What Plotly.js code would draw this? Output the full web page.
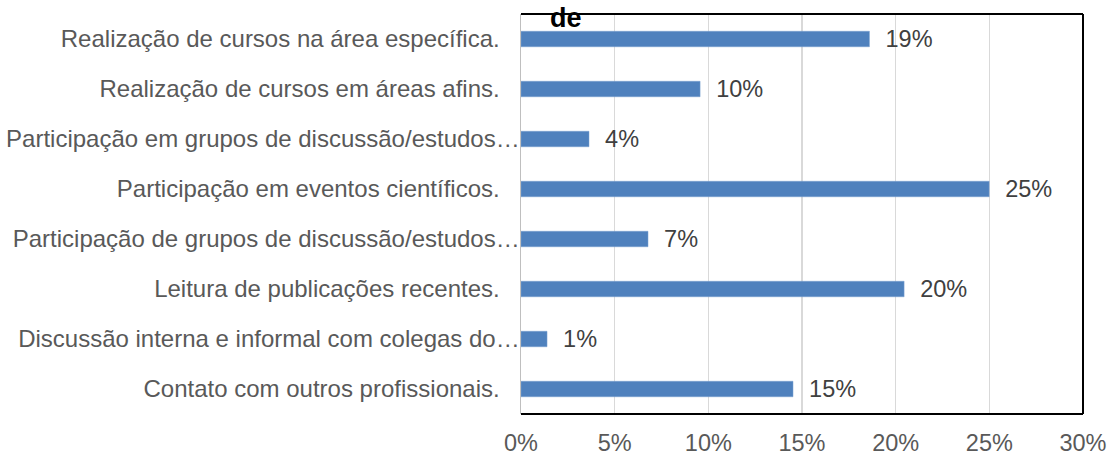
<!DOCTYPE html>
<html>
<head>
<meta charset="utf-8">
<script src="https://cdn.plot.ly/plotly-3.0.1.min.js"></script>
<style>html,body{margin:0;padding:0;background:#fff;}#chart{width:1112px;height:455px;}</style>
</head>
<body>
<div id="chart"></div>
<script>
const categories = [
  "Realização de cursos na área específica.",
  "Realização de cursos em áreas afins.",
  "Participação em grupos de discussão/estudos…",
  "Participação em eventos científicos.",
  "Participação de grupos de discussão/estudos…",
  "Leitura de publicações recentes.",
  "Discussão interna e informal com colegas do…",
  "Contato com outros profissionais."
];
const values = [0.186, 0.0956, 0.0363, 0.2499, 0.0678, 0.2045, 0.0139, 0.1452];
const xTickVals = [0, 0.05, 0.10, 0.15, 0.20, 0.25, 0.30];
const xTickText = ["0%", "5%", "10%", "15%", "20%", "25%", "30%"];
const titleText = "de";

const pad = "\u00A0\u00A0\u00A0";
const yTickText = categories.map(c => c.endsWith("…") ? c : c + pad);
const FONT = "Liberation Sans, Arial, sans-serif";

const trace = {
  type: "bar",
  orientation: "h",
  x: values,
  y: categories,
  width: 0.31,
  marker: {color: "#4f81bd", line: {color: "#7aa0d0", width: 0.5}},
  texttemplate: "\u00A0\u00A0%{x:.0%}",
  textposition: "outside",
  constraintext: "none",
  cliponaxis: false,
  textfont: {family: FONT, size: 23.5, color: "#404040"},
  hoverinfo: "none"
};

const layout = {
  width: 1112, height: 455,
  margin: {l: 521, r: 29, t: 14, b: 41, pad: 0},
  paper_bgcolor: "#ffffff",
  plot_bgcolor: "#ffffff",
  showlegend: false,
  font: {family: FONT, size: 24, color: "#595959"},
  xaxis: {
    range: [0, 0.30],
    tickvals: xTickVals,
    ticktext: xTickText,
    showgrid: true,
    gridcolor: "#d9d9d9",
    gridwidth: 1.5,
    zeroline: false,
    showline: false,
    ticks: "outside",
    ticklen: 8,
    tickcolor: "rgba(0,0,0,0)",
    tickfont: {family: FONT, size: 23.5, color: "#595959"},
    fixedrange: true
  },
  yaxis: {
    type: "category",
    autorange: "reversed",
    tickvals: categories,
    ticktext: yTickText,
    showgrid: false,
    zeroline: false,
    showline: true,
    linecolor: "#bfbfbf",
    linewidth: 1.5,
    ticks: "",
    ticklabelstandoff: -5,
    tickfont: {family: FONT, size: 24, color: "#595959"},
    fixedrange: true
  },
  shapes: [
    {type: "line", xref: "paper", yref: "paper", x0: 0, x1: 1, y0: 1, y1: 1, line: {color: "#000", width: 2}},
    {type: "line", xref: "paper", yref: "paper", x0: 1, x1: 1, y0: 0, y1: 1, line: {color: "#000", width: 2}},
    {type: "line", xref: "paper", yref: "paper", x0: 0, x1: 1, y0: 0, y1: 0, line: {color: "#000", width: 2}}
  ],
  annotations: [
    {text: "<b>" + titleText + "</b>", xref: "paper", yref: "paper", x: 0.08, y: 0.99,
     xanchor: "center", yanchor: "middle", showarrow: false,
     font: {family: FONT, size: 27, color: "#000"}}
  ]
};

Plotly.newPlot("chart", [trace], layout, {displayModeBar: false, staticPlot: true});
</script>
</body>
</html>
